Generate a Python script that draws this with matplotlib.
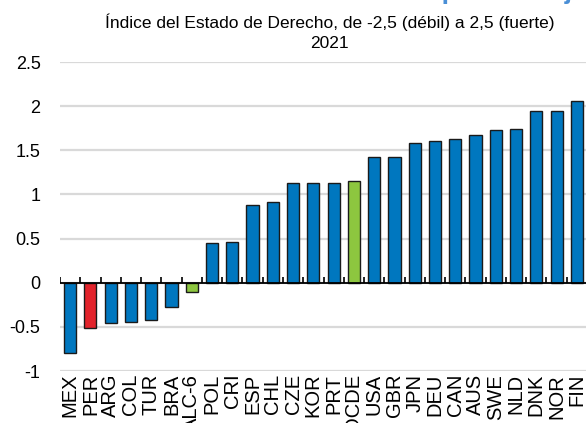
import matplotlib
matplotlib.use("Agg")
import matplotlib.pyplot as plt
from matplotlib import font_manager as fm
import numpy as np

categories = ["MEX", "PER", "ARG", "COL", "TUR", "BRA", "ALC-6", "POL", "CRI", "ESP",
              "CHL", "CZE", "KOR", "PRT", "OCDE", "USA", "GBR", "JPN", "DEU", "CAN",
              "AUS", "SWE", "NLD", "DNK", "NOR", "FIN"]
values = [-0.80, -0.51, -0.46, -0.45, -0.42, -0.28, -0.10, 0.45, 0.46, 0.875,
          0.91, 1.125, 1.125, 1.13, 1.147, 1.42, 1.427, 1.58, 1.61, 1.63,
          1.67, 1.73, 1.74, 1.94, 1.95, 2.06]
yticks = [-1, -0.5, 0, 0.5, 1, 1.5, 2, 2.5]
ytick_labels = ["-1", "-0.5", "0", "0.5", "1", "1.5", "2", "2.5"]

BLUE = "#0077BF"
RED = "#E2232B"
GREEN = "#8DC63F"
colors = [RED if c == "PER" else GREEN if c in ("ALC-6", "OCDE") else BLUE for c in categories]

names = {f.name for f in fm.fontManager.ttflist}
fam = "Liberation Sans Narrow" if "Liberation Sans Narrow" in names else "Liberation Sans"
plt.rcParams["font.family"] = [fam, "DejaVu Sans"]

fig = plt.figure(figsize=(5.86, 4.23), dpi=100)
ax = fig.add_axes([60 / 586, 1 - 371 / 423, 527 / 586, 309 / 423])

x = np.arange(len(categories))
ax.bar(x, values, width=0.6, color=colors, edgecolor="#1a1a1a", linewidth=1.0, zorder=3)

ax.set_ylim(-1, 2.5)
ax.set_xlim(-0.5, len(categories) - 0.5)
ax.set_yticks(yticks)
ax.set_yticklabels(ytick_labels, fontsize=13)
ax.yaxis.grid(True, color="#d9d9d9", linewidth=1.6, zorder=0)
ax.set_axisbelow(True)
ax.tick_params(axis="y", length=0, pad=14)
ax.set_xticks(x)
ax.set_xticklabels(categories, rotation=90, fontsize=14.5)
ax.tick_params(axis="x", length=0, pad=2)
for s in ax.spines.values():
    s.set_visible(False)

ax.axhline(0, color="black", linewidth=1.3, zorder=4)
bounds = np.arange(len(categories) + 1) - 0.5
ax.vlines(bounds, 0, 0.065, color="black", linewidth=1.2, zorder=4)

fig.text(0.563, 1 - 22 / 423, "Índice del Estado de Derecho, de -2,5 (débil) a 2,5 (fuerte)",
         ha="center", va="center", fontsize=12.5)
fig.text(0.563, 1 - 44 / 423, "2021", ha="center", va="center", fontsize=12.5)
fig.text(0.0, 1 + 1 / 423, "Gráfico 1.10. El Estado de derecho puede mejorar",
         ha="left", va="baseline", fontsize=19, fontweight="bold", color="#4A8FD6")

fig.savefig("out.png", dpi=100)
